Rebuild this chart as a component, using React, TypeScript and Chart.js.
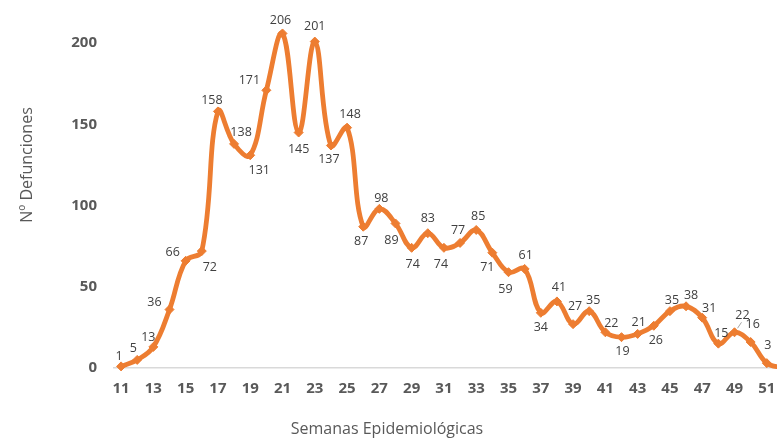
import React, { useEffect, useRef } from "react";
import { Chart, registerables } from "chart.js";

Chart.register(...registerables);

const weeks: string[] = [
  "11","12","13","14","15","16","17","18","19","20","21","22","23","24","25","26","27","28","29","30","31",
  "32","33","34","35","36","37","38","39","40","41","42","43","44","45","46","47","48","49","50","51","52",
];

const deaths: number[] = [
  1, 5, 13, 36, 66, 72, 158, 138, 131, 171, 206, 145, 201, 137, 148, 87, 98, 89, 74, 83, 74,
  77, 85, 71, 59, 61, 34, 41, 27, 35, 22, 19, 21, 26, 35, 38, 31, 15, 22, 16, 3, 0,
];

const yTicks: number[] = [0, 50, 100, 150, 200];

const yTitle = "Nº Defunciones";
const xTitle = "Semanas Epidemiológicas";

// label placement (style only): [dx, dy] from each point
const labelOffsets: [number, number][] = [
  [-2, -10], [-4, -11], [-5, -9], [-15, -7], [-13, -8], [8, 16], [-6, -11], [7, -11], [9, 15], [-17, -10],
  [-2, -13], [0, 17], [0, -15], [-2, 14], [3, -13], [-2, 15], [2, -10], [-4, 17], [1, 17], [0, -15],
  [-3, 17], [-2, -13], [2, -14], [-5, 15], [-3, 17], [1, -13], [0, 15], [2, -14], [2, -18], [4, -11],
  [6, -9], [1, 14], [1, -11], [2, 15], [2, -11], [5, -11], [7, -9], [3, -10], [8, -17], [2, -18],
  [1, -18], [0, -12],
];

const ORANGE = "#ED7D31";
const AXIS_TEXT = "#595959";
const LABEL_TEXT = "#404040";

const CANVAS_W = 800;
const CANVAS_H = 504;
const CANVAS_TOP = -63;

const labelsPlugin = {
  id: "pointLabels",
  afterDatasetsDraw(chart: any) {
    const ctx = chart.ctx;
    const meta = chart.getDatasetMeta(0);
    ctx.save();
    ctx.font = "12.5px 'Open Sans'";
    ctx.fillStyle = LABEL_TEXT;
    ctx.textAlign = "center";
    ctx.textBaseline = "middle";
    meta.data.forEach((pt: any, i: number) => {
      const off = labelOffsets[i] || [0, -12];
      ctx.fillText(String(deaths[i]), pt.x + off[0], pt.y + off[1]);
      if (i === 38) {
        ctx.strokeStyle = "#a6a6a6";
        ctx.lineWidth = 1;
        ctx.beginPath();
        ctx.moveTo(pt.x + 3, pt.y - 4);
        ctx.lineTo(pt.x + 7, pt.y - 10);
        ctx.stroke();
      }
    });
    const area = chart.chartArea;
    ctx.font = "16px 'Open Sans'";
    ctx.fillStyle = AXIS_TEXT;
    ctx.textBaseline = "middle";
    ctx.fillText(xTitle, 387, area.bottom + 61);
    ctx.restore();
  },
};

export default function App() {
  const ref = useRef<HTMLCanvasElement | null>(null);
  useEffect(() => {
    if (!ref.current) return;
    const chart = new Chart(ref.current, {
      type: "line",
      data: {
        labels: weeks,
        datasets: [
          {
            data: deaths,
            borderColor: ORANGE,
            backgroundColor: ORANGE,
            borderWidth: 4.8,
            tension: 0.4,
            pointStyle: "rectRot",
            pointRadius: 4.5,
            pointBackgroundColor: ORANGE,
            pointBorderColor: ORANGE,
            pointBorderWidth: 1,
            clip: false as any,
          },
        ],
      },
      options: {
        responsive: false,
        animation: false,
        layout: { padding: { left: 0, right: 9, top: 0, bottom: 0 } },
        plugins: {
          legend: { display: false },
          tooltip: { enabled: false },
        },
        scales: {
          x: {
            type: "category",
            offset: true,
            grid: { display: false, drawTicks: false },
            border: { display: false },
            ticks: {
              autoSkip: false,
              maxRotation: 0,
              padding: 12,
              color: AXIS_TEXT,
              font: { family: "'Open Sans'", size: 15, weight: "bold" },
              callback: (_v: any, i: number) => (i % 2 === 0 ? weeks[i] : ""),
            },
            afterFit: (axis: any) => {
              axis.height = 73;
            },
          },
          y: {
            min: 0,
            max: 250,
            afterBuildTicks: (axis: any) => {
              axis.ticks = yTicks.map((v) => ({ value: v }));
            },
            grid: {
              drawTicks: false,
              color: (c: any) => (c.tick && c.tick.value === 0 ? "#d9d9d9" : "rgba(0,0,0,0)"),
              lineWidth: 1.5,
            },
            border: { display: false },
            ticks: {
              padding: 16,
              color: AXIS_TEXT,
              font: { family: "'Open Sans'", size: 15, weight: "bold" },
            },
            title: {
              display: true,
              text: yTitle,
              color: AXIS_TEXT,
              font: { family: "'Open Sans'", size: 16 },
              padding: { top: 18, bottom: 0 },
            },
            afterFit: (axis: any) => {
              axis.width = 113;
            },
          },
        },
      },
      plugins: [labelsPlugin],
    });
    return () => chart.destroy();
  }, []);

  return (
    <div style={{ position: "fixed", left: 0, top: CANVAS_TOP, width: CANVAS_W, height: CANVAS_H, background: "#fff" }}>
      <canvas ref={ref} width={CANVAS_W} height={CANVAS_H} style={{ width: CANVAS_W, height: CANVAS_H }} />
    </div>
  );
}
